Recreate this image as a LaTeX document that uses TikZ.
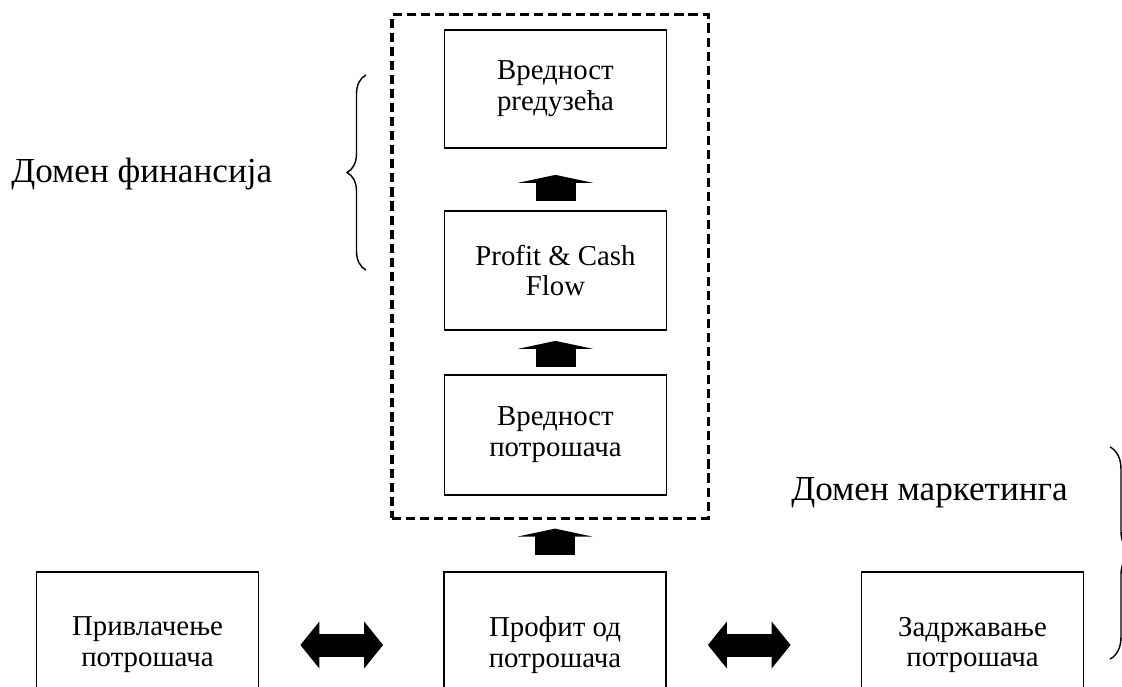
\documentclass[tikz,border=0pt]{standalone}
\usepackage{fontspec}
\setmainfont{Liberation Serif}
\usetikzlibrary{arrows.meta,decorations.pathreplacing}

\begin{document}
\begin{tikzpicture}[x=0.025cm,y=-0.025cm,
    box/.style={draw,line width=1.2pt,minimum width=5.55cm,align=center,
      font=\fontsize{20.5}{22}\selectfont},
    finframe/.style={draw,line width=2.2pt,dash pattern=on 6.5pt off 3.5pt,
      minimum width=7.9cm,minimum height=12.575cm},
    uparrow/.style={line width=1cm,-{Triangle[length=0.2cm,width=1.875cm]}},
    twoway/.style={line width=0.575cm,
      {Triangle[length=0.475cm,width=1.15cm]}-{Triangle[length=0.475cm,width=1.15cm]}},
    domlabel/.style={font=\fontsize{25}{28}\selectfont,anchor=base west,inner sep=0pt},
    curly/.style={decorate,line width=1pt}]
  \useasboundingbox (0,0) rectangle (1122,686);
  \clip (0,0) rectangle (1122,686);
  \node[finframe] at (550,266.5) (fin) {};
  \node[box,minimum height=2.95cm] at (555.5,89) (firm) {Вредност\\prедузећа};
  \node[box,minimum height=2.975cm] at (555.5,270.5) (cash) {Profit \& Cash\\Flow};
  \node[box,minimum height=3cm] at (555.5,435) (custval) {Вредност\\потрошача};
  \node[box,minimum height=3.65cm] at (147.5,645) (attract) {Привлачење\\потрошача};
  \node[box,minimum height=3.65cm] at (555,645) (custprofit) {Профит од\\потрошача};
  \node[box,minimum height=3.65cm] at (972.5,645) (retain) {Задржавање\\потрошача};
  \node[domlabel] at (11,182) (finlabel) {Домен финансија};
  \node[domlabel] at (791,500) (mktlabel) {Домен маркетинга};
  \draw[uparrow,shorten <=0.225cm,shorten >=0.65cm] (cash.north) -- (firm.south);
  \draw[uparrow,shorten <=0.175cm,shorten >=0.25cm] (custval.north) -- (cash.south);
  \draw[uparrow,shorten <=0.4cm,shorten >=0.225cm] (custprofit.north) -- (custprofit.north |- fin.south);
  \draw[twoway,shorten <=1.025cm,shorten >=1.5cm] (attract.east) -- (custprofit.west);
  \draw[twoway,shorten <=1.025cm,shorten >=1.75cm] (custprofit.east) -- (retain.west);
  \draw[curly,decoration={brace,amplitude=13.5pt}] (366,270) -- (366,75);
  \draw[curly,decoration={brace,amplitude=15.6pt}] (1110,447) -- (1110,659);
\end{tikzpicture}
\end{document}
